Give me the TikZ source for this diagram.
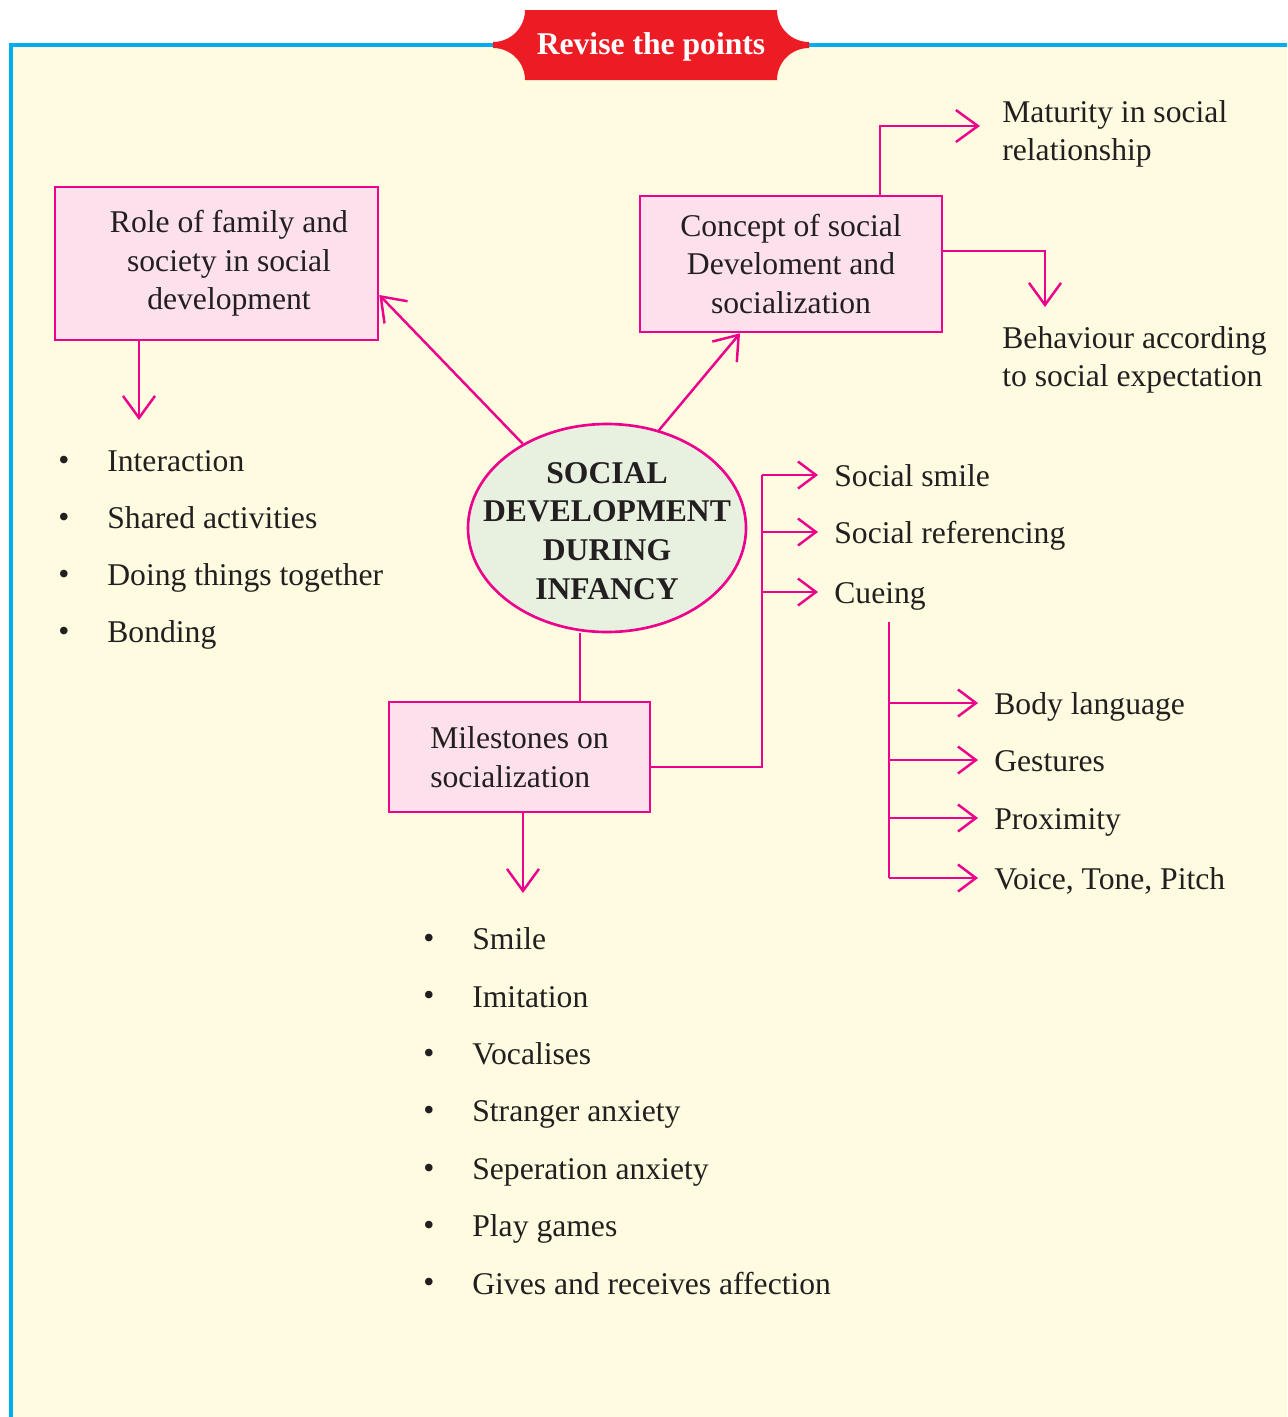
\documentclass[tikz,border=0pt]{standalone}
\usepackage{fontspec}
\setmainfont{Liberation Serif}
\usetikzlibrary{arrows.meta,shapes.geometric}
\definecolor{magline}{HTML}{EC008C}
\definecolor{boxpink}{HTML}{FCE0EC}
\definecolor{ellgreen}{HTML}{E8F1E0}
\definecolor{cream}{HTML}{FEFBE0}
\definecolor{framecyan}{HTML}{00AEEF}
\definecolor{bannerred}{HTML}{ED1C24}
\definecolor{inkgrey}{HTML}{231F20}

\begin{document}
\begin{tikzpicture}[>={Straight Barb[length=0.44cm,width=0.64cm]},
    every node/.style={align=center,text=inkgrey,font=\fontsize{18}{22}\selectfont},
    link/.style={draw=magline,line width=1.4pt},
    twig/.style={link,-{Straight Barb[length=0.36cm,width=0.54cm]}},
    topic/.style={draw=magline,line width=1.5pt,fill=boxpink,inner sep=0pt},
    note/.style={anchor=west,align=left,inner xsep=0.32cm,inner ysep=0pt},
    leaf/.style={note,text height=0.45cm,text depth=0cm},
    item/.style={anchor=west,inner sep=0pt,text height=0.45cm,text depth=0.12cm}]
    % page and frame
    \useasboundingbox (0,0) rectangle (25.74,-28.34);
    \fill[cream] (0.22,-0.90) rectangle (25.74,-28.34);
    \draw[framecyan,line width=2.2pt] (25.74,-0.90) -- (0.22,-0.90) -- (0.22,-28.34);
    % banner
    \fill[bannerred] (10.50,-0.20) arc[start angle=0,end angle=-90,radius=0.64] -- ++(0,-0.12)
      arc[start angle=90,end angle=0,radius=0.64] -- (15.54,-1.60)
      arc[start angle=180,end angle=90,radius=0.64] -- ++(0,0.12)
      arc[start angle=-90,end angle=-180,radius=0.64] -- cycle;
    \node[text=white,font=\bfseries\fontsize{18}{22}\selectfont] (banner) at (13.02,-0.93) {Revise the points};
    % centre and topics
    \node[ellipse,draw=magline,line width=1.5pt,fill=ellgreen,minimum width=5.56cm,minimum height=4.16cm,
      inner sep=0pt] (core) at (12.14,-10.56) {};
    \node[font=\bfseries\fontsize{18}{22}\selectfont] (coretext) at ([yshift=-0.06cm]core.center)
      {SOCIAL\\DEVELOPMENT\\DURING\\INFANCY};
    \node[topic,minimum width=6.46cm,minimum height=3.06cm] (family) at (4.33,-5.27)
      {\hspace*{0.5cm}Role of family and\\\hspace*{0.5cm}society in social\\\hspace*{0.5cm}development};
    \node[topic,minimum width=6.04cm,minimum height=2.72cm] (concept) at (15.82,-5.28)
      {Concept of social\\Develoment and\\socialization};
    \node[topic,minimum width=5.22cm,minimum height=2.20cm,align=left] (miles) at (10.39,-15.14)
      {Milestones on\\socialization};
    % outcomes
    \node[note] (mature) at (19.72,-2.68) {Maturity in social\\relationship};
    \node[note] (behave) at (19.72,-7.20) {Behaviour according\\to social expectation};
    \node[leaf] (smile) at (16.36,-9.50) {Social smile};
    \node[leaf] (refer) at (16.36,-10.64) {Social referencing};
    \node[leaf] (cue) at (16.36,-11.84) {Cueing};
    \node[leaf] (body) at (19.56,-14.06) {Body language};
    \node[leaf] (gest) at (19.56,-15.20) {Gestures};
    \node[leaf] (prox) at (19.56,-16.36) {Proximity};
    \node[leaf] (voice) at (19.56,-17.56) {Voice, Tone, Pitch};
    % lists
    \foreach \t [count=\i] in {Interaction,Shared activities,Doing things together,Bonding}{
      \node[item] (fam\i) at (2.14,{-8.13-1.14*\i}) {\t};
      \node (famdot\i) at (1.28,{-8.13-1.14*\i}) {\textbullet};
    }
    \foreach \t [count=\i] in {Smile,Imitation,Vocalises,Stranger anxiety,Seperation anxiety,Play games,Gives and receives affection}{
      \node[item] (mile\i) at (9.44,{-17.68-1.148*\i}) {\t};
      \node (miledot\i) at (8.58,{-17.68-1.148*\i}) {\textbullet};
    }
    % connectors
    \draw[link,->] (core.135) -- ([yshift=-0.63cm]family.east);
    \draw[link,->] (core.62) -- ([xshift=-1.02cm]concept.south);
    \draw[link] ([xshift=-0.54cm]core.south) -- ([xshift=-0.54cm]core.south |- miles.north);
    \coordinate (famtip) at (2.78,-8.40);
    \draw[link,->] (family.south -| famtip) -- (famtip);
    \coordinate (maturetip) at (19.60,-2.52);
    \draw[link,->] ([xshift=1.78cm]concept.north) |- (maturetip);
    \coordinate (behavetip) at (20.90,-6.14);
    \draw[link,->] ([yshift=0.26cm]concept.east) -| (behavetip);
    \coordinate (milestip) at (10.46,-17.86);
    \draw[link,->] (miles.south -| milestip) -- (milestip);
    \coordinate (milesbar) at (15.24,-9.50);
    \draw[link] ([yshift=-0.20cm]miles.east) -| (milesbar);
    \foreach \n in {smile,refer,cue} \draw[twig] (milesbar |- \n.west) -- (\n.west);
    \coordinate (cuetop) at (17.78,-12.44);
    \coordinate (cuebot) at (17.78,-17.56);
    \draw[link] (cuetop) -- (cuebot);
    \foreach \n in {body,gest,prox,voice} \draw[twig] (cuetop |- \n.west) -- (\n.west);
\end{tikzpicture}
\end{document}
